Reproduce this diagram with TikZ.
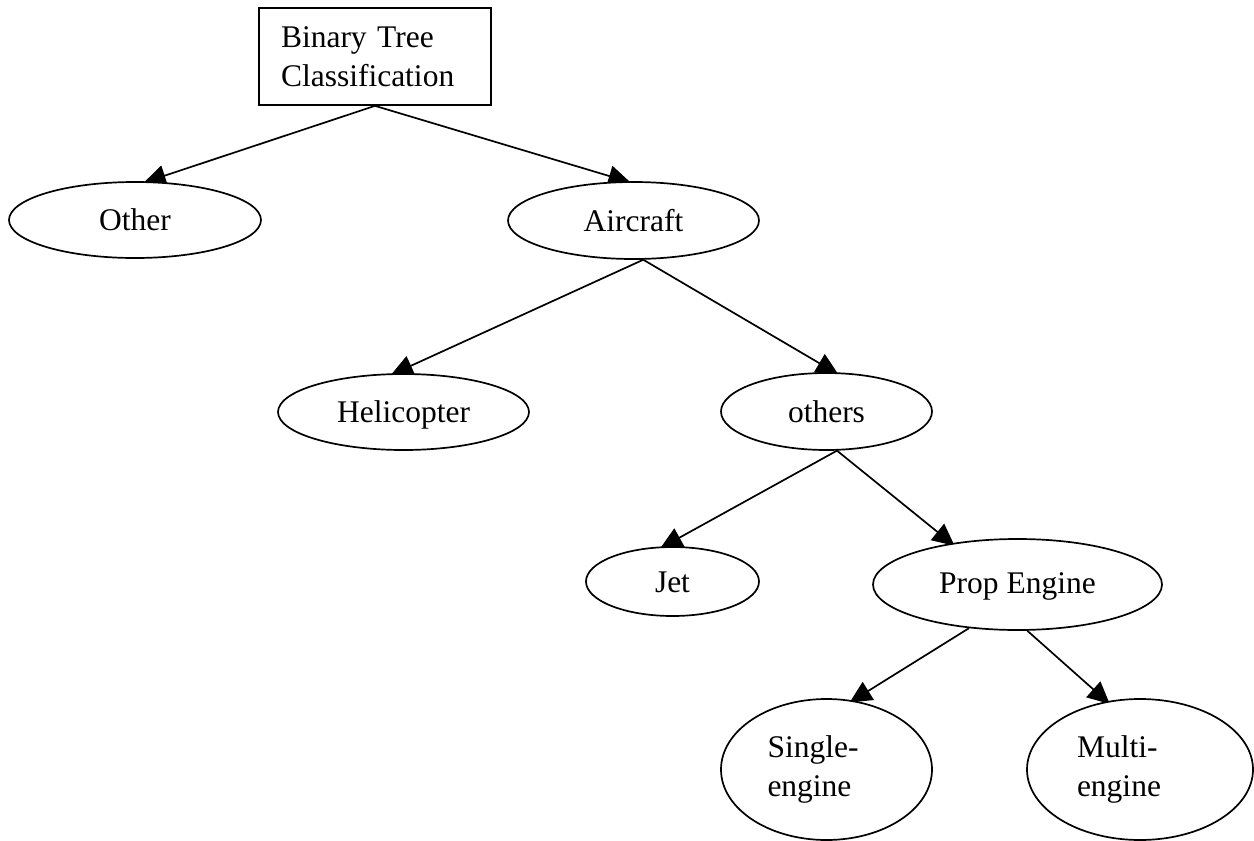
\documentclass[tikz,border=0pt]{standalone}
\usepackage{fontspec}
\setmainfont{Liberation Serif}
\usetikzlibrary{shapes.geometric,arrows.meta}
\pgfdeclarelayer{bg}
\pgfsetlayers{bg,main}
\begin{document}
\begin{tikzpicture}[x=1pt,y=-1pt,
  every node/.style={font=\fontsize{31.5}{39}\selectfont, inner sep=0pt},
  treebox/.style={draw, line width=1.7pt, fill=white, rectangle, minimum width=232pt, minimum height=97pt, text width=188pt, align=left},
  oval/.style={draw, line width=1.7pt, fill=white, ellipse, text height=21.5pt, text depth=0pt},
  oval2/.style={draw, line width=1.7pt, fill=white, ellipse, align=left},
  link/.style={line width=1.7pt, -{Triangle[length=22pt,width=21pt]}, shorten >=-4pt}
]
\useasboundingbox (0,0) rectangle (1254,841);
\node[treebox] (root) at (375,56.5) {\mbox{Binary Tree}\\\mbox{Classification}};
\node[oval, minimum width=252pt, minimum height=76pt] (other) at (135,220) {Other};
\node[oval, minimum width=251pt, minimum height=77pt] (aircraft) at (633.5,220.5) {Aircraft};
\node[oval, minimum width=251pt, minimum height=76pt] (heli) at (403.5,412) {Helicopter};
\node[oval, minimum width=211pt, minimum height=77pt] (others) at (826.5,411.5) {others};
\node[oval, minimum width=173pt, minimum height=69pt] (jet) at (672.5,581.5) {Jet};
\node[oval, minimum width=289pt, minimum height=91pt, text height=17pt] (prop) at (1017.5,584.5) {Prop Engine};
\node[oval2, text width=118pt, minimum width=211pt, minimum height=141pt] (single) at (826.5,769.5) {Single-\\engine};
\node[oval2, text width=126pt, minimum width=226pt, minimum height=141pt] (multi) at (1140,769.5) {Multi-\\engine};
\begin{pgfonlayer}{bg}
\fill[white] (0,0) rectangle (1254,841);
\draw[link] (root.south) -- (other.72);
\draw[link] (root.south) -- (aircraft.100);
\draw[link] (aircraft.-76) -- (heli.103);
\draw[link] (aircraft.-76) -- (others.78);
\draw[link] (others.-75) -- (jet.104);
\draw[link] (others.-75) -- (prop.148);
\draw[link] (prop.222) -- (single.69);
\draw[link] (prop.-78) -- (multi.116);
\end{pgfonlayer}
\end{tikzpicture}
\end{document}
